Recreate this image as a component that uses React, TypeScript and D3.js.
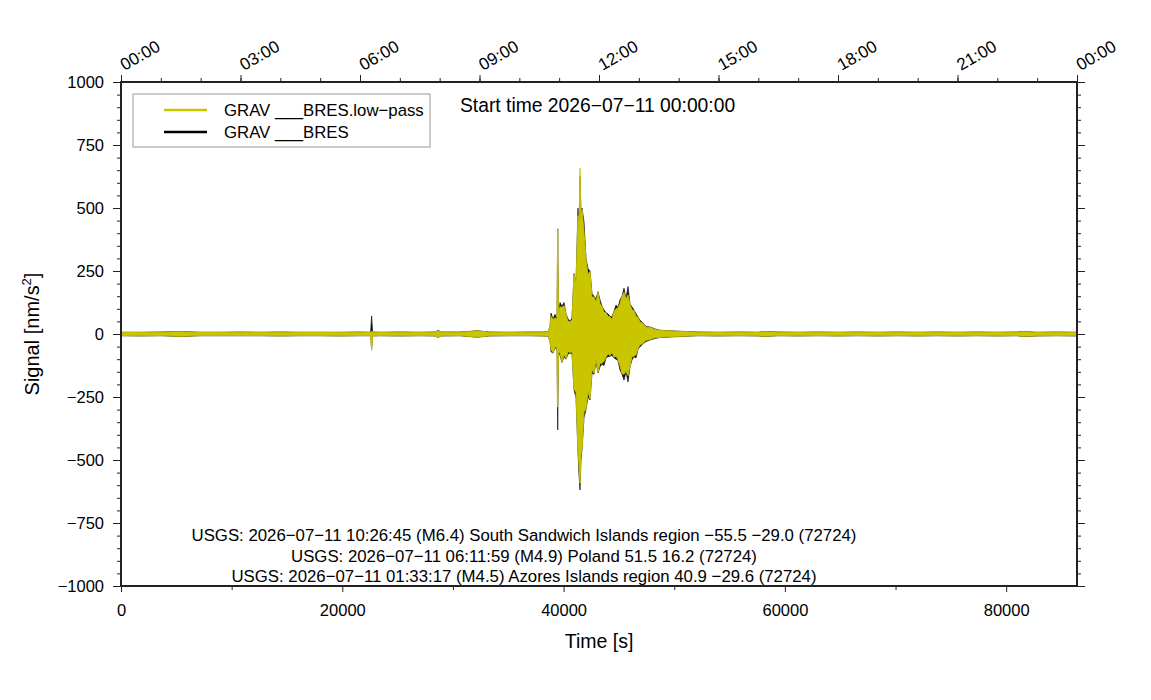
import React, { useEffect, useRef } from 'react';
import * as d3 from 'd3';

// Envelope of the traces (time in s, signal in nm/s^2)
const traceTimes = [
  0, 1800, 3600, 5400, 7200, 9000, 10800, 12600, 14400, 16200, 18000, 19800, 21600,
  22560, 22650, 22740, 23400, 25200, 27000, 28400, 28650, 28900, 30600, 31700, 32200,
  32600, 33300, 35100, 36900, 38000, 38600,
  38772, 38862, 39043, 39224, 39404, 39468, 39540, 39675, 39856, 40037, 40218, 40398,
  40579, 40760, 40941, 41121, 41302, 41393, 41483, 41573, 41664, 41845, 42026, 42206,
  42387, 42568, 42749, 42929, 43110, 43291, 43471, 43652, 43833, 44014, 44194, 44375,
  44556, 44737, 44917, 45098, 45279, 45460, 45640, 45821, 46002, 46183, 46363, 46544,
  46725, 46906, 47177, 47447, 47809, 48261, 48713, 49617, 50521,
  52200, 54000, 55800, 57600, 58200, 59400, 61200, 63000, 64800, 66600, 68400, 70200,
  72000, 73800, 75600, 77400, 79200, 81000, 81500, 82800, 84600, 86400,
];

const rawUpper = [
  7, 7, 8, 10, 7, 7, 8, 7, 8, 7, 7, 7, 8,
  7, 72, 8, 7, 8, 7, 8, 15, 8, 8, 11, 14,
  11, 8, 7, 8, 8, 9,
  30, 83, 60, 78, 60, 417, 70, 125, 110, 125, 80, 60,
  50, 65, 240, 200, 500, 420, 625, 480, 500, 445, 300, 260,
  250, 160, 150, 140, 168, 135, 110, 95, 85, 80, 70, 67,
  90, 115, 105, 135, 150, 182, 140, 188, 120, 107, 95, 80,
  67, 55, 44, 30, 28, 20, 15, 13, 11,
  8, 7, 8, 7, 10, 8, 7, 8, 7, 8, 7, 8,
  7, 8, 7, 8, 7, 8, 10, 7, 8, 7,
];

const rawLower = [
  -7, -8, -7, -10, -7, -7, -7, -7, -8, -7, -7, -8, -7,
  -7, -58, -8, -7, -8, -7, -8, -14, -8, -7, -11, -13,
  -11, -8, -7, -7, -8, -9,
  -28, -70, -76, -55, -60, -381, -70, -85, -113, -90, -100, -80,
  -75, -80, -222, -250, -470, -560, -619, -500, -460, -332, -300, -250,
  -262, -155, -160, -110, -155, -130, -120, -125, -95, -90, -88, -85,
  -95, -100, -105, -143, -160, -183, -150, -190, -130, -103, -90, -95,
  -60, -52, -38, -30, -24, -18, -14, -12, -10,
  -7, -8, -7, -8, -10, -7, -8, -7, -8, -7, -8, -7,
  -8, -7, -8, -7, -8, -7, -10, -8, -7, -8,
];

const lpUpper = [
  6, 6, 7, 9, 6, 6, 7, 6, 7, 6, 6, 6, 7,
  6, 12, 7, 6, 7, 6, 7, 13, 7, 7, 10, 13,
  10, 7, 6, 7, 7, 8,
  28, 70, 58, 64, 58, 414, 68, 108, 106, 112, 78, 50,
  48, 56, 236, 196, 470, 415, 658, 452, 495, 405, 296, 236,
  248, 145, 148, 125, 165, 120, 108, 85, 84, 70, 68, 58,
  88, 100, 103, 120, 148, 165, 138, 155, 118, 95, 93, 70,
  65, 48, 42, 27, 26, 18, 14, 12, 10,
  7, 6, 7, 6, 9, 7, 6, 7, 6, 7, 6, 7,
  6, 7, 6, 7, 6, 7, 9, 6, 7, 6,
];

const lpLower = [
  -6, -7, -6, -9, -6, -6, -6, -6, -7, -6, -6, -7, -6,
  -6, -66, -7, -6, -7, -6, -7, -13, -7, -6, -10, -12,
  -10, -7, -6, -6, -7, -8,
  -26, -62, -74, -50, -58, -290, -68, -75, -110, -80, -97, -70,
  -73, -70, -218, -232, -466, -520, -592, -480, -455, -310, -296, -228,
  -258, -140, -156, -98, -152, -115, -117, -108, -92, -78, -86, -72,
  -92, -88, -102, -125, -157, -160, -147, -165, -127, -90, -88, -82,
  -58, -44, -36, -25, -22, -15, -13, -10, -9,
  -6, -7, -6, -7, -9, -6, -7, -6, -7, -6, -7, -6,
  -7, -6, -7, -6, -7, -6, -9, -7, -6, -7,
];

const yTicks = [-1000, -750, -500, -250, 0, 250, 500, 750, 1000];
const xTicks = [0, 20000, 40000, 60000, 80000];
const hourTicks = [0, 10800, 21600, 32400, 43200, 54000, 64800, 75600, 86400];
const hourLabels = ['00:00', '03:00', '06:00', '09:00', '12:00', '15:00', '18:00', '21:00', '00:00'];

const legendItems = [
  { label: 'GRAV ___BRES.low\u2212pass', color: '#c9c600' },
  { label: 'GRAV ___BRES', color: '#000000' },
];

const quakeLines = [
  'USGS: 2026\u221207\u221211 10:26:45 (M6.4) South Sandwich Islands region \u221255.5 \u221229.0 (72724)',
  'USGS: 2026\u221207\u221211 06:11:59 (M4.9) Poland 51.5 16.2 (72724)',
  'USGS: 2026\u221207\u221211 01:33:17 (M4.5) Azores Islands region 40.9 \u221229.6 (72724)',
];

const FONT = '"Liberation Sans", Arial, Helvetica, sans-serif';
const YELLOW = '#c9c600';

const App: React.FC = () => {
  const svgRef = useRef<SVGSVGElement>(null);

  useEffect(() => {
    document.body.style.margin = '0';
    if (!svgRef.current) return;
    d3.select(svgRef.current).selectAll('*').remove();

    const width = 1151;
    const height = 700;
    const left = 121;
    const right = 1077;
    const top = 82;
    const bottom = 586;

    const svg = d3
      .select(svgRef.current)
      .attr('width', width)
      .attr('height', height)
      .style('font-family', FONT);

    const x = d3.scaleLinear().domain([0, 86400]).range([left, right]);
    const y = d3.scaleLinear().domain([-1000, 1000]).range([bottom, top]);

    svg
      .append('defs')
      .append('clipPath')
      .attr('id', 'plot-clip')
      .append('rect')
      .attr('x', left)
      .attr('y', top)
      .attr('width', right - left)
      .attr('height', bottom - top);

    const idx = d3.range(traceTimes.length);
    const plot = svg.append('g').attr('clip-path', 'url(#plot-clip)');

    const rawArea = d3
      .area<number>()
      .x((i) => x(traceTimes[i]))
      .y0((i) => y(rawLower[i]))
      .y1((i) => y(rawUpper[i]));

    const lpArea = d3
      .area<number>()
      .x((i) => x(traceTimes[i]))
      .y0((i) => y(lpLower[i]))
      .y1((i) => y(lpUpper[i]));

    // raw trace underneath, low-pass on top
    plot
      .append('path')
      .attr('d', rawArea(idx))
      .attr('fill', '#111')
      .attr('stroke', '#111')
      .attr('stroke-width', 0.7)
      .attr('stroke-linejoin', 'miter');
    plot
      .append('path')
      .attr('d', lpArea(idx))
      .attr('fill', YELLOW)
      .attr('stroke', YELLOW)
      .attr('stroke-width', 0.9)
      .attr('stroke-linejoin', 'miter');

    const styleAxis = (g: d3.Selection<SVGGElement, unknown, null, undefined>) => {
      g.select('.domain').remove();
      g.selectAll('line').attr('stroke', '#222').attr('stroke-width', 1);
      g.selectAll('text')
        .attr('fill', '#000')
        .style('font-family', FONT)
        .style('font-size', '16.5px');
    };
    const noLabel = () => '';
    const fmt = d3.format('d');

    // left
    svg
      .append('g')
      .attr('transform', `translate(${left},0)`)
      .call(d3.axisLeft(y).tickValues(d3.range(-1000, 1001, 50)).tickSize(4).tickFormat(noLabel))
      .call(styleAxis);
    svg
      .append('g')
      .attr('transform', `translate(${left},0)`)
      .call(d3.axisLeft(y).tickValues(yTicks).tickSize(8).tickPadding(9).tickFormat(fmt))
      .call(styleAxis);

    // right
    svg
      .append('g')
      .attr('transform', `translate(${right},0)`)
      .call(d3.axisRight(y).tickValues(d3.range(-1000, 1001, 50)).tickSize(4).tickFormat(noLabel))
      .call(styleAxis);
    svg
      .append('g')
      .attr('transform', `translate(${right},0)`)
      .call(d3.axisRight(y).tickValues(yTicks).tickSize(8).tickFormat(noLabel))
      .call(styleAxis);

    // bottom
    svg
      .append('g')
      .attr('transform', `translate(0,${bottom})`)
      .call(d3.axisBottom(x).tickValues([10000, 30000, 50000, 70000]).tickSize(4).tickFormat(noLabel))
      .call(styleAxis);
    svg
      .append('g')
      .attr('transform', `translate(0,${bottom})`)
      .call(d3.axisBottom(x).tickValues(xTicks).tickSize(6).tickPadding(12).tickFormat(fmt))
      .call(styleAxis);

    // top (hours of day)
    svg
      .append('g')
      .attr('transform', `translate(0,${top})`)
      .call(d3.axisTop(x).tickValues(d3.range(0, 86401, 3600)).tickSize(4).tickFormat(noLabel))
      .call(styleAxis);
    const topAxis = svg
      .append('g')
      .attr('transform', `translate(0,${top})`)
      .call(d3.axisTop(x).tickValues(hourTicks).tickSize(7).tickFormat((_, i) => hourLabels[i]))
      .call(styleAxis);
    topAxis
      .selectAll('text')
      .attr('text-anchor', 'start')
      .attr('dy', null)
      .attr('y', null)
      .attr('transform', 'translate(3,-11) rotate(-30)')
      .style('font-size', '17px');

    // frame
    svg
      .append('rect')
      .attr('x', left)
      .attr('y', top)
      .attr('width', right - left)
      .attr('height', bottom - top)
      .attr('fill', 'none')
      .attr('stroke', '#222')
      .attr('stroke-width', 2);

    // axis titles
    svg
      .append('text')
      .attr('x', (left + right) / 2)
      .attr('y', 648)
      .attr('text-anchor', 'middle')
      .style('font-size', '19.5px')
      .text('Time [s]');

    const yl = svg
      .append('text')
      .attr('transform', `translate(39,${(top + bottom) / 2}) rotate(-90)`)
      .attr('text-anchor', 'middle')
      .style('font-size', '20px');
    yl.append('tspan').text('Signal [nm/s');
    yl.append('tspan').attr('dy', -8).style('font-size', '13px').text('2');
    yl.append('tspan').attr('dy', 8).text(']');

    // legend
    const lg = svg.append('g');
    lg.append('rect')
      .attr('x', 133)
      .attr('y', 94)
      .attr('width', 297)
      .attr('height', 53)
      .attr('fill', '#fff')
      .attr('stroke', '#999')
      .attr('stroke-width', 1);
    legendItems.forEach((item, i) => {
      const ly = 110 + i * 22;
      lg.append('line')
        .attr('x1', 164)
        .attr('x2', 207)
        .attr('y1', ly)
        .attr('y2', ly)
        .attr('stroke', item.color)
        .attr('stroke-width', 2.5);
      lg.append('text')
        .attr('x', 224)
        .attr('y', ly + 6)
        .style('font-size', '16.8px')
        .text(item.label);
    });

    svg
      .append('text')
      .attr('x', 460)
      .attr('y', 112)
      .style('font-size', '19.3px')
      .text('Start time 2026\u221207\u221211 00:00:00');

    quakeLines.forEach((line, i) => {
      svg
        .append('text')
        .attr('x', 524)
        .attr('y', 541 + i * 20.5)
        .attr('text-anchor', 'middle')
        .style('font-size', '16.8px')
        .text(line);
    });
  }, []);

  return <svg ref={svgRef} style={{ display: 'block' }} />;
};

export default App;
